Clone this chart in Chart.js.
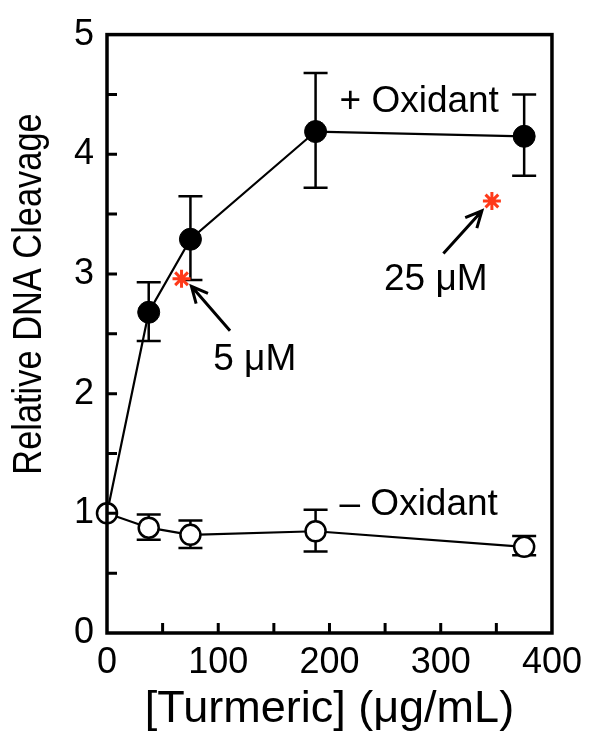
<!DOCTYPE html>
<html>
<head>
<meta charset="utf-8">
<script src="https://cdn.jsdelivr.net/npm/chart.js@4"></script>
<style>
  html, body { margin: 0; padding: 0; background: #fff; }
  #wrap { width: 590px; height: 734px; }
</style>
</head>
<body>
<div id="wrap"><canvas id="myChart" width="590" height="734"></canvas></div>
<script>
// turmeric concentration (ug/mL)
var conc = [0, 37.5, 75, 187.5, 375];
// + oxidant
var plusY = [1.0, 2.68, 3.29, 4.19, 4.15];
var plusHi = [1.0, 2.93, 3.65, 4.68, 4.50];
var plusLo = [1.0, 2.44, 2.95, 3.72, 3.82];
// - oxidant
var minusY = [1.0, 0.88, 0.82, 0.85, 0.72];
var minusHi = [1.0, 0.99, 0.94, 1.03, 0.81];
var minusLo = [1.0, 0.78, 0.71, 0.68, 0.65];
// curcumin reference points (5 uM, 25 uM)
var starX = [67, 346];
var starY = [2.96, 3.61];
var starLabels = ['5 μM', '25 μM'];

var xTicks = [0, 100, 200, 300, 400];
var yTicks = [0, 1, 2, 3, 4, 5];

var FONT = '"Liberation Sans", Arial, Helvetica, sans-serif';

function pts(xs, ys) {
  var out = [];
  for (var i = 0; i < xs.length; i++) out.push({x: xs[i], y: ys[i]});
  return out;
}

// error bars, drawn under the markers
var errorBars = {
  id: 'errorBars',
  beforeDatasetsDraw: function(chart) {
    var ctx = chart.ctx, xs = chart.scales.x, ys = chart.scales.y;
    var sets = [[plusHi, plusLo], [minusHi, minusLo]];
    ctx.save();
    ctx.strokeStyle = '#000';
    ctx.lineWidth = 2.5;
    sets.forEach(function(s) {
      for (var i = 1; i < conc.length; i++) {
        var px = xs.getPixelForValue(conc[i]);
        var top = ys.getPixelForValue(s[0][i]);
        var bot = ys.getPixelForValue(s[1][i]);
        ctx.beginPath();
        ctx.moveTo(px, top); ctx.lineTo(px, bot);
        ctx.moveTo(px - 12, top); ctx.lineTo(px + 12, top);
        ctx.moveTo(px - 12, bot); ctx.lineTo(px + 12, bot);
        ctx.stroke();
      }
    });
    ctx.restore();
  }
};

function arrow(ctx, x1, y1, x2, y2) {
  var a = Math.atan2(y2 - y1, x2 - x1), h = 18;
  ctx.beginPath();
  ctx.moveTo(x1, y1); ctx.lineTo(x2, y2);
  ctx.moveTo(x2 - h * Math.cos(a - 0.45), y2 - h * Math.sin(a - 0.45));
  ctx.lineTo(x2, y2);
  ctx.lineTo(x2 - h * Math.cos(a + 0.45), y2 - h * Math.sin(a + 0.45));
  ctx.stroke();
}

// frame, inward ticks, labels and arrows
var decor = {
  id: 'decor',
  afterDraw: function(chart) {
    var ctx = chart.ctx, a = chart.chartArea;
    var xs = chart.scales.x, ys = chart.scales.y;
    ctx.save();
    ctx.strokeStyle = '#000';
    ctx.lineWidth = 3.5;
    ctx.strokeRect(a.left, a.top, a.right - a.left, a.bottom - a.top);

    ctx.lineWidth = 3;
    ctx.beginPath();
    for (var v = 50; v < 400; v += 50) {
      var px = xs.getPixelForValue(v);
      ctx.moveTo(px, a.bottom); ctx.lineTo(px, a.bottom - 10);
    }
    for (var w = 0.5; w < 5; w += 0.5) {
      var py = ys.getPixelForValue(w);
      ctx.moveTo(a.left, py); ctx.lineTo(a.left + 10, py);
    }
    ctx.stroke();

    ctx.fillStyle = '#000';
    ctx.font = '37px ' + FONT;
    ctx.textBaseline = 'alphabetic';
    ctx.fillText('+ Oxidant', xs.getPixelForValue(209), ys.getPixelForValue(4.354));
    ctx.fillText('\u2013 Oxidant', xs.getPixelForValue(209), ys.getPixelForValue(0.985));
    ctx.fillText(starLabels[0], xs.getPixelForValue(95.5), ys.getPixelForValue(2.20));
    ctx.fillText(starLabels[1], xs.getPixelForValue(249), ys.getPixelForValue(2.864));

    ctx.lineWidth = 3;
    arrow(ctx, xs.getPixelForValue(110.6), ys.getPixelForValue(2.525),
               xs.getPixelForValue(75.9), ys.getPixelForValue(2.897));
    arrow(ctx, xs.getPixelForValue(302.4), ys.getPixelForValue(3.17),
               xs.getPixelForValue(337), ys.getPixelForValue(3.527));

    // y axis title (slightly condensed, as in the original figure)
    ctx.save();
    ctx.translate(30, 294);
    ctx.rotate(-Math.PI / 2);
    ctx.scale(0.86, 1);
    ctx.font = '40px ' + FONT;
    ctx.textAlign = 'center';
    ctx.textBaseline = 'middle';
    ctx.fillText('Relative DNA Cleavage', 0, 0);
    ctx.restore();
    ctx.restore();
  }
};

var ctx = document.getElementById('myChart');
var myChart = new Chart(ctx, {
  type: 'scatter',
  data: {
    datasets: [
      {
        label: '+ Oxidant',
        data: pts(conc, plusY),
        showLine: true,
        borderColor: '#000',
        borderWidth: 2.2,
        backgroundColor: '#000',
        pointRadius: [0, 11, 11, 11, 11],
        pointBorderWidth: 1,
        clip: false,
        order: 2
      },
      {
        label: '- Oxidant',
        data: pts(conc, minusY),
        showLine: true,
        borderColor: '#000',
        borderWidth: 2.2,
        backgroundColor: '#fff',
        pointRadius: 10,
        pointBorderWidth: 2.5,
        clip: false,
        order: 1
      },
      {
        label: 'stars',
        data: pts(starX, starY),
        showLine: false,
        pointStyle: 'star',
        pointRadius: 9,
        pointBorderWidth: 3,
        borderColor: '#ff3a1a',
        backgroundColor: '#ff3a1a',
        clip: false,
        order: 0
      }
    ]
  },
  options: {
    responsive: false,
    animation: false,
    events: [],
    layout: { padding: { top: 29, right: 32, left: 0, bottom: 0 } },
    plugins: { legend: { display: false }, tooltip: { enabled: false } },
    scales: {
      x: {
        type: 'linear',
        min: 0, max: 400,
        afterFit: function(s) { s.height = 101; },
        afterBuildTicks: function(s) { s.ticks = xTicks.map(function(v) { return {value: v}; }); },
        grid: { display: false, drawTicks: false },
        border: { display: false },
        ticks: { color: '#000', padding: 8, font: { family: FONT, size: 36 }, maxRotation: 0 },
        title: {
          display: true,
          text: '[Turmeric] (μg/mL)',
          color: '#000',
          font: { family: FONT, size: 45, lineHeight: 1 },
          padding: { top: 0, bottom: 2 }
        }
      },
      y: {
        type: 'linear',
        min: 0, max: 5,
        afterFit: function(s) { s.width = 107; },
        afterBuildTicks: function(s) { s.ticks = yTicks.map(function(v) { return {value: v}; }); },
        grid: { display: false, drawTicks: false },
        border: { display: false },
        ticks: { color: '#000', padding: 13, font: { family: FONT, size: 36 } },
        title: { display: false }
      }
    }
  },
  plugins: [errorBars, decor]
});
</script>
</body>
</html>
